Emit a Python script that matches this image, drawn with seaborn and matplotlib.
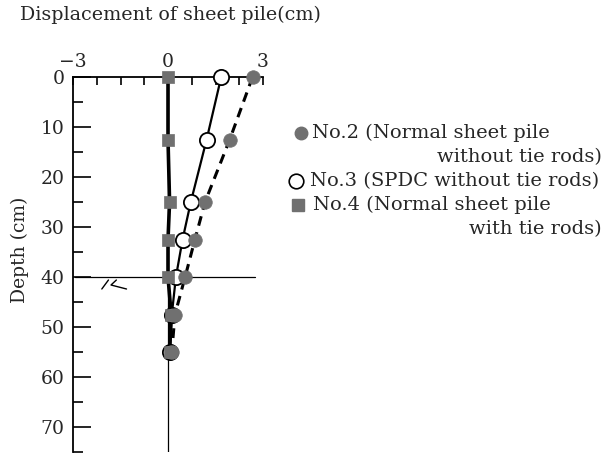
import numpy as np
import pandas as pd
import matplotlib
matplotlib.use("Agg")
import matplotlib.pyplot as plt
from matplotlib.lines import Line2D
from matplotlib.ticker import MultipleLocator, FixedLocator
import seaborn as sns

# Measured depth stations (cm below pile head)
depth = [0, 12.5, 25, 32.5, 40, 47.5, 55]
# Horizontal displacement of each sheet pile (cm)
no2_disp = [2.67, 1.95, 1.17, 0.85, 0.54, 0.22, 0.12]
no3_disp = [1.68, 1.22, 0.72, 0.46, 0.25, 0.12, 0.06]
no4_disp = [0.0, 0.0, 0.05, 0.0, 0.0, 0.1, 0.05]

x_tick_values = [-3, 0, 3]
x_tick_labels = ["\u22123", "0", "3"]
y_tick_values = [0, 10, 20, 30, 40, 50, 60, 70]
ground_depth = 40

legend_lines = [
    "No.2 (Normal sheet pile",
    "without tie rods)",
    "No.3 (SPDC without tie rods)",
    "No.4 (Normal sheet pile",
    "with tie rods)",
]

sns.set_style("white")
plt.rcParams["font.family"] = ["DejaVu Serif"]
plt.rcParams["font.size"] = 13.5

gray = "#707070"

df = pd.concat([
    pd.DataFrame({"disp": no2_disp, "depth": depth, "pile": "No.2"}),
    pd.DataFrame({"disp": no3_disp, "depth": depth, "pile": "No.3"}),
    pd.DataFrame({"disp": no4_disp, "depth": depth, "pile": "No.4"}),
])

fig = plt.figure(figsize=(6.09, 4.55), dpi=100)
ax = fig.add_axes([73 / 609, 1 - 452 / 455, 190 / 609, 375 / 455])

# zero-displacement reference and ground surface
ax.axvline(0, color="black", lw=0.9, zorder=1)
ax.plot([-2.94, 2.75], [ground_depth, ground_depth], color="black", lw=0.9, zorder=1,
        clip_on=False)
ax.plot([-2.09, -1.88], [42.4, 40.6], color="black", lw=1.0)
ax.plot([-1.63, -1.80, -1.31], [40.6, 41.6, 42.4], color="black", lw=1.0)

# profile lines
sns.lineplot(data=df[df.pile == "No.2"], x="disp", y="depth", sort=False, estimator=None,
             color="black", lw=2.2, linestyle=(0, (3.2, 2.2)), ax=ax, zorder=2)
sns.lineplot(data=df[df.pile == "No.3"], x="disp", y="depth", sort=False, estimator=None,
             color="black", lw=1.6, ax=ax, zorder=2)
sns.lineplot(data=df[df.pile == "No.4"], x="disp", y="depth", sort=False, estimator=None,
             color="black", lw=2.6, ax=ax, zorder=2)

# measured points
sns.scatterplot(data=df[df.pile == "No.3"], x="disp", y="depth", marker="o", s=120,
                facecolor="white", edgecolor="black", linewidth=1.3, ax=ax, zorder=3,
                clip_on=False)
sns.scatterplot(data=df[df.pile == "No.2"], x="disp", y="depth", marker="o", s=95,
                color=gray, edgecolor=gray, linewidth=0.5, ax=ax, zorder=4,
                clip_on=False)
sns.scatterplot(data=df[df.pile == "No.4"], x="disp", y="depth", marker="s", s=75,
                color=gray, edgecolor=gray, linewidth=0.5, ax=ax, zorder=5,
                clip_on=False)

ax.set_xlim(-3, 3)
ax.set_ylim(75, 0)
ax.set_xlabel("")
ax.set_ylabel("Depth (cm)", fontsize=13.5)

for side in ["right", "bottom"]:
    ax.spines[side].set_visible(False)
for side in ["left", "top"]:
    ax.spines[side].set_linewidth(1.3)
    ax.spines[side].set_color("black")

ax.xaxis.tick_top()
ax.xaxis.set_major_locator(FixedLocator(x_tick_values))
ax.set_xticklabels(x_tick_labels)
ax.xaxis.set_minor_locator(MultipleLocator(0.75))
ax.yaxis.set_major_locator(FixedLocator(y_tick_values))
ax.yaxis.set_minor_locator(MultipleLocator(5))
ax.tick_params(axis="x", which="both", direction="in", length=6, width=1.2, pad=4,
               top=True, bottom=False, labeltop=True, labelbottom=False, color="black")
ax.tick_params(axis="y", which="major", direction="in", length=13, width=1.2, pad=6,
               left=True, right=False, color="black")
ax.tick_params(axis="y", which="minor", direction="in", length=7, width=1.2,
               left=True, right=False, color="black")

fig.text(20 / 609, 1 - 15 / 455, "Displacement of sheet pile(cm)", ha="left", va="center",
         fontsize=13.7)
ax.yaxis.set_label_coords(29 / 609, 1 - 250 / 455, transform=fig.transFigure)

# key
key_size = 14
rows_y = [133, 157, 181, 205, 229]
fig.text(312 / 609, 1 - rows_y[0] / 455, legend_lines[0], ha="left", va="center", fontsize=key_size)
fig.text(602 / 609, 1 - rows_y[1] / 455, legend_lines[1], ha="right", va="center", fontsize=key_size)
fig.text(310 / 609, 1 - rows_y[2] / 455, legend_lines[2], ha="left", va="center", fontsize=key_size)
fig.text(313 / 609, 1 - rows_y[3] / 455, legend_lines[3], ha="left", va="center", fontsize=key_size)
fig.text(602 / 609, 1 - rows_y[4] / 455, legend_lines[4], ha="right", va="center", fontsize=key_size)
fig.add_artist(Line2D([301 / 609], [1 - rows_y[0] / 455], marker="o", markersize=9,
                      color=gray, markeredgecolor=gray, transform=fig.transFigure))
fig.add_artist(Line2D([296 / 609], [1 - rows_y[2] / 455], marker="o", markersize=10.5,
                      markerfacecolor="white", markeredgecolor="black", markeredgewidth=1.2,
                      transform=fig.transFigure))
fig.add_artist(Line2D([298 / 609], [1 - rows_y[3] / 455], marker="s", markersize=8.5,
                      color=gray, markeredgecolor=gray, transform=fig.transFigure))

fig.savefig("out.png", dpi=100)
